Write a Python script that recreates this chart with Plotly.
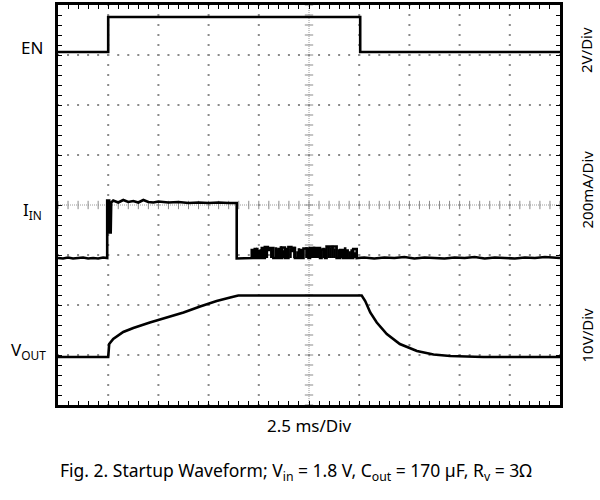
import plotly.graph_objects as go

# ---- data (divisions: x 0..10, y 0..8) ----
EN_X = [0.0, 1.0, 1.0, 6.02, 6.02, 10.0]
EN_Y = [7.06, 7.06, 7.76, 7.76, 7.06, 7.06]

IIN_X = [0.0, 0.1, 0.2, 0.3, 0.4, 0.5, 0.6, 0.7, 0.8, 0.9, 0.98,
         0.98, 1.02, 1.03, 1.05, 1.06, 1.1, 1.2, 1.3, 1.4, 1.5, 1.6, 1.7, 1.8, 1.9, 2.0, 2.2, 2.4, 2.6, 2.8, 3.0, 3.2, 3.4, 3.56,
         3.56, 3.7, 3.86, 3.86, 3.88, 3.88, 3.92, 3.92, 3.94, 3.94, 3.99, 3.99, 4.01, 4.01, 4.06, 4.06, 4.08, 4.08,
         4.12, 4.12, 4.18, 4.18, 4.21, 4.21, 4.29, 4.29, 4.39, 4.39, 4.41, 4.41, 4.46, 4.46, 4.52, 4.52,
         4.59, 4.59, 4.65, 4.65, 4.68, 4.68, 4.72, 4.72, 4.82, 4.82, 4.84, 4.84, 4.89, 4.89, 4.99, 4.99,
         5.02, 5.02, 5.22, 5.22, 5.25, 5.25, 5.32, 5.32, 5.35, 5.35, 5.55, 5.55, 5.62, 5.62, 5.68, 5.68,
         5.75, 5.75, 5.77, 5.77, 5.88, 5.88, 5.95, 5.95, 6.1, 6.3, 6.5, 6.7, 6.9, 7.1, 7.3, 7.5, 7.7, 7.9,
         8.1, 8.3, 8.5, 8.7, 8.9, 9.1, 9.3, 9.5, 9.7, 9.9, 10.0]
IIN_Y = [2.94, 2.93, 2.95, 2.93, 2.94, 2.95, 2.93, 2.94, 2.93, 2.95, 2.94,
         4.09, 4.09, 3.45, 3.45, 4.05, 4.09, 4.05, 4.1, 4.06, 4.08, 4.05, 4.1, 4.06, 4.05, 4.07, 4.05, 4.06, 4.04, 4.05, 4.04, 4.05, 4.04, 4.04,
         2.93, 2.94, 2.94, 3.1, 3.1, 2.94, 2.94, 3.12, 3.12, 2.94, 2.94, 3.08, 3.08, 2.94, 2.94, 3.14, 3.14, 2.94,
         2.94, 3.16, 3.16, 3.1, 3.1, 3.14, 3.14, 2.94, 2.94, 3.12, 3.12, 2.94, 2.94, 3.15, 3.15, 2.94,
         2.94, 3.16, 3.16, 3.08, 3.08, 3.14, 3.14, 2.94, 2.94, 3.1, 3.1, 2.94, 2.94, 3.13, 3.13, 2.94,
         2.94, 3.14, 3.14, 2.94, 2.94, 3.11, 3.11, 2.94, 2.94, 3.17, 3.17, 2.94, 2.94, 3.1, 3.1, 2.94,
         2.94, 3.09, 3.09, 2.94, 2.94, 3.12, 3.12, 2.94, 2.95, 2.93, 2.95, 2.94, 2.96, 2.93, 2.95, 2.94, 2.93, 2.95,
         2.94, 2.96, 2.93, 2.95, 2.94, 2.93, 2.95, 2.94, 2.96, 2.94, 2.94]

# extra noise bursts (x position, peak height) filling the switching region
BURST_X = [3.89, 3.96, 4.03, 4.1, 4.15, 4.24, 4.26, 4.33, 4.36, 4.43, 4.49, 4.55, 4.62, 4.7, 4.76, 4.79,
           4.86, 4.94, 4.97, 5.05, 5.09, 5.13, 5.17, 5.2, 5.28, 5.38, 5.42, 5.46, 5.5, 5.58, 5.65, 5.71, 5.8, 5.84, 5.91]
BURST_Y = [3.06, 3.13, 3.1, 3.05, 3.15, 3.12, 3.07, 3.14, 3.1, 3.16, 3.08, 3.13, 3.12, 3.15, 3.06, 3.12,
           3.1, 3.14, 3.09, 3.13, 3.15, 3.11, 3.14, 3.1, 3.13, 3.16, 3.14, 3.17, 3.12, 3.1, 3.08, 3.14, 3.06, 3.1, 3.04]

VOUT_X = [0.0, 0.5, 1.0, 1.02, 1.1, 1.3, 1.5, 1.83, 2.17, 2.5, 2.83, 3.16, 3.43, 3.59, 4.5, 5.5, 6.05,
          6.12, 6.22, 6.35, 6.55, 6.81, 7.15, 7.48, 7.81, 8.47, 9.2, 10.0]
VOUT_Y = [0.96, 0.96, 0.96, 1.22, 1.32, 1.46, 1.54, 1.65, 1.75, 1.85, 1.97, 2.08, 2.15, 2.19, 2.19, 2.19, 2.19,
          2.08, 1.85, 1.65, 1.42, 1.22, 1.08, 1.01, 0.98, 0.96, 0.96, 0.96]

X_DIVS = 10
Y_DIVS = 8
SUB = 5  # minor marks per division
IIN_BASE = 2.94

fig = go.Figure()

# ---- graticule (oscilloscope style dotted grid) ----
gx, gy = [], []
for i in range(1, X_DIVS):
    if i == X_DIVS // 2:
        continue
    for j in range(Y_DIVS * SUB + 1):
        gx.append(i); gy.append(j / SUB)
for j in range(1, Y_DIVS):
    if j == Y_DIVS // 2:
        continue
    for i in range(X_DIVS * SUB + 1):
        gx.append(i / SUB); gy.append(j)
fig.add_trace(go.Scatter(x=gx, y=gy, mode="markers",
                         marker=dict(symbol="square", size=2, color="#8a8a8a", line_width=0),
                         hoverinfo="skip", showlegend=False))

# center cross lines
cx = X_DIVS / 2
cy = Y_DIVS / 2
fig.add_trace(go.Scatter(x=[0, X_DIVS], y=[cy, cy], mode="lines",
                         line=dict(color="#9a9a9a", width=1, dash="1px,1px"),
                         hoverinfo="skip", showlegend=False))
fig.add_trace(go.Scatter(x=[cx, cx], y=[0, Y_DIVS], mode="lines",
                         line=dict(color="#9a9a9a", width=1, dash="1px,1px"),
                         hoverinfo="skip", showlegend=False))
fig.add_trace(go.Scatter(x=[i / SUB for i in range(X_DIVS * SUB + 1)], y=[cy] * (X_DIVS * SUB + 1),
                         mode="markers", marker=dict(symbol="line-ns", size=6, color="#8a8a8a",
                                                     line=dict(width=1, color="#8a8a8a")),
                         hoverinfo="skip", showlegend=False))
fig.add_trace(go.Scatter(x=[cx] * (Y_DIVS * SUB + 1), y=[j / SUB for j in range(Y_DIVS * SUB + 1)],
                         mode="markers", marker=dict(symbol="line-ew", size=6, color="#8a8a8a",
                                                     line=dict(width=1, color="#8a8a8a")),
                         hoverinfo="skip", showlegend=False))

# ---- waveforms ----
bx, by = [], []
for x0, y0 in zip(BURST_X, BURST_Y):
    bx += [x0, x0, x0 + 0.02, x0 + 0.02, None]
    by += [IIN_BASE, y0, y0, IIN_BASE, None]
fig.add_trace(go.Scatter(x=bx, y=by, mode="lines", line=dict(color="black", width=1.6),
                         hoverinfo="skip", showlegend=False))
for xs, ys in [(EN_X, EN_Y), (IIN_X, IIN_Y), (VOUT_X, VOUT_Y)]:
    fig.add_trace(go.Scatter(x=xs, y=ys, mode="lines",
                             line=dict(color="black", width=2.6),
                             hoverinfo="skip", showlegend=False))

FONT = "Noto Sans"
annotations = []
# left channel labels
for txt, yy, xs in [("EN", 7.15, -26), ("I<sub>IN</sub>", 3.9, -26), ("V<sub>OUT</sub>", 1.1, -30)]:
    annotations.append(dict(text=txt, x=0, y=yy, xref="paper", yref="y",
                            xshift=xs, xanchor="center", yanchor="middle",
                            showarrow=False, font=dict(family=FONT, size=17, color="black")))
# right scale labels
for txt, yy in [("2V/Div", 7.1), ("200mA/Div", 4.31), ("10V/Div", 1.39)]:
    annotations.append(dict(text=txt, x=1, y=yy, xref="paper", yref="y", xshift=26,
                            xanchor="center", yanchor="middle", textangle=-90, showarrow=False,
                            font=dict(family=FONT, size=15, color="black")))
# time base
annotations.append(dict(text="2.5 ms/Div", x=0.5, y=0, xref="paper", yref="paper", yshift=-20,
                        xanchor="center", yanchor="middle", showarrow=False,
                        font=dict(family=FONT, size=17, color="black")))
# caption
annotations.append(dict(text="Fig. 2. Startup Waveform; V<sub>in</sub> = 1.8 V, C<sub>out</sub> = 170 µF, R<sub>v</sub> = 3Ω",
                        x=(296 - 58) / 502, y=(405 - 472) / 403, xref="paper", yref="paper", showarrow=False,
                        xanchor="center", yanchor="middle",
                        font=dict(family=FONT, size=17.5, color="black")))

axis_common = dict(showgrid=False, zeroline=False, showticklabels=False,
                   ticks="inside", ticklen=4, tickwidth=1, tickcolor="black",
                   showline=True, linewidth=2.5, linecolor="black", mirror="ticks",
                   tick0=0, dtick=1 / SUB, fixedrange=True)

fig.update_layout(
    width=600, height=500,
    margin=dict(l=58, r=40, t=2, b=95, pad=0),
    paper_bgcolor="white", plot_bgcolor="white",
    xaxis=dict(range=[0, X_DIVS], **axis_common),
    yaxis=dict(range=[0, Y_DIVS], **axis_common),
    annotations=annotations,
    showlegend=False,
)

fig.write_html("out.html", config={"displayModeBar": False},
               post_script="document.body.style.margin='0px';document.body.style.overflow='hidden';")
